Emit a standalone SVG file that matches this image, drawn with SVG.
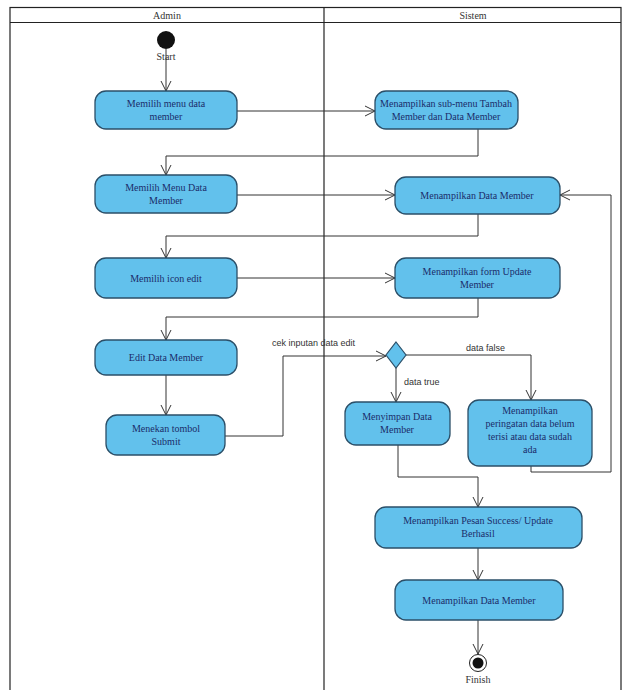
<svg xmlns="http://www.w3.org/2000/svg" width="624" height="690" viewBox="0 0 624 690">
<defs>
<marker id="arr" viewBox="0 0 12 12" refX="11" refY="6" markerWidth="12" markerHeight="12" markerUnits="userSpaceOnUse" orient="auto">
<polyline points="1,1 11,6 1,11" fill="none" stroke="#333" stroke-width="1"/>
</marker>
</defs>
<style>
.node rect{fill:#62c1ec;stroke:#2b4f68;stroke-width:1.3}
.node text{font-family:"Liberation Serif",serif;font-size:10px;fill:#1b2c6a;text-anchor:middle}
.lane{fill:none;stroke:#222;stroke-width:1.2}
.lbl{font-family:"Liberation Serif",serif;font-size:10px;fill:#333;text-anchor:middle}
.c{fill:none;stroke:#333;stroke-width:1;marker-end:url(#arr)}
.cl{font-family:"Liberation Sans",sans-serif;font-size:9px;fill:#333}
</style>
<rect width="624" height="690" fill="#fff"/>
<g id="lanes">
<rect class="lane" x="10" y="7.5" width="611" height="690"/>
<line class="lane" x1="10" y1="22.5" x2="621" y2="22.5"/>
<line class="lane" x1="324" y1="7.5" x2="324" y2="690" stroke-width="1.6"/>
<text class="lbl" x="167" y="19">Admin</text>
<text class="lbl" x="473" y="19">Sistem</text>
</g>
<g id="connectors">
<path class="c" d="M166,49 V91"/>
<path class="c" d="M237,111 H375"/>
<path class="c" d="M478,128 V156 H166 V175"/>
<path class="c" d="M237,195 H395"/>
<path class="c" d="M478,214 V236 H166 V258"/>
<path class="c" d="M237,278 H395"/>
<path class="c" d="M478,298 V317 H166 V340"/>
<path class="c" d="M166,375 V415"/>
<path class="c" d="M225,436 H283 V356 H386"/>
<text class="cl" x="272" y="346">cek inputan data edit</text>
<path class="c" d="M406,355 H531 V400"/>
<text class="cl" x="466" y="351">data false</text>
<path class="c" d="M396,368 V402"/>
<text class="cl" x="404" y="385">data true</text>
<path class="c" d="M531,466 V472 H611 V195 H560"/>
<path class="c" d="M398,445 V477 H478 V507"/>
<path class="c" d="M478,548 V580"/>
<path class="c" d="M478,620 V654"/>
</g>
<g id="start">
<circle cx="166" cy="40" r="9" fill="#111"/>
<text class="lbl" x="166" y="60">Start</text>
</g>
<g id="a1" class="node"><rect x="95" y="91" width="142" height="38" rx="11"/><text x="166" y="107">Memilih menu data</text><text x="166" y="120">member</text></g>
<g id="s1" class="node"><rect x="375" y="91" width="143" height="38" rx="11"/><text x="446" y="107">Menampilkan sub-menu Tambah</text><text x="446" y="120">Member dan Data Member</text></g>
<g id="a2" class="node"><rect x="95" y="175" width="142" height="38" rx="11"/><text x="166" y="191">Memilih Menu Data</text><text x="166" y="204">Member</text></g>
<g id="s2" class="node"><rect x="395" y="177" width="165" height="37" rx="11"/><text x="477" y="199">Menampilkan Data Member</text></g>
<g id="a3" class="node"><rect x="95" y="258" width="142" height="40" rx="11"/><text x="166" y="282">Memilih icon edit</text></g>
<g id="s3" class="node"><rect x="395" y="258" width="165" height="40" rx="11"/><text x="477" y="275">Menampilkan form Update</text><text x="477" y="288">Member</text></g>
<g id="a4" class="node"><rect x="95" y="340" width="142" height="35" rx="11"/><text x="166" y="361">Edit Data Member</text></g>
<g id="a5" class="node"><rect x="106" y="415" width="119" height="40" rx="11"/><text x="166" y="432">Menekan tombol</text><text x="166" y="445">Submit</text></g>
<g id="decision"><polygon points="396,342 406,355 396,368 386,355" fill="#62c1ec" stroke="#2b4f68" stroke-width="1.2"/></g>
<g id="s4" class="node"><rect x="345" y="402" width="105" height="43" rx="11"/><text x="397" y="420">Menyimpan Data</text><text x="397" y="433">Member</text></g>
<g id="s5" class="node"><rect x="468" y="400" width="124" height="66" rx="11"/><text x="530" y="414">Menampilkan</text><text x="530" y="427">peringatan data belum</text><text x="530" y="440">terisi atau data sudah</text><text x="530" y="453">ada</text></g>
<g id="s6" class="node"><rect x="375" y="507" width="207" height="41" rx="11"/><text x="478" y="524">Menampilkan Pesan Success/ Update</text><text x="478" y="537">Berhasil</text></g>
<g id="s7" class="node"><rect x="395" y="580" width="168" height="40" rx="11"/><text x="479" y="604">Menampilkan Data Member</text></g>
<g id="finish">
<circle cx="478" cy="663" r="8.5" fill="#fff" stroke="#222" stroke-width="1"/>
<circle cx="478" cy="663" r="5.5" fill="#111"/>
<text class="lbl" x="478" y="683">Finish</text>
</g>
</svg>
